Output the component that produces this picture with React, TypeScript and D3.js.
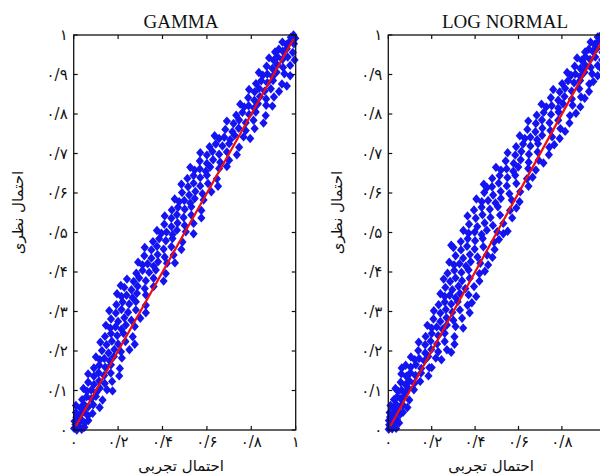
import React from "react";
import * as d3 from "d3";

// ---- Data ----
const xTicks = [0, 0.2, 0.4, 0.6, 0.8, 1];
const xTickLabels = ["۰", "۰/۲", "۰/۴", "۰/۶", "۰/۸", "۱"];
const yTicks = [0, 0.1, 0.2, 0.3, 0.4, 0.5, 0.6, 0.7, 0.8, 0.9, 1];
const yTickLabels = ["۰", "۰/۱", "۰/۲", "۰/۳", "۰/۴", "۰/۵", "۰/۶", "۰/۷", "۰/۸", "۰/۹", "۱"];
const refLine = [0.01, 0.99];
const titles = ["GAMMA", "LOG NORMAL"];
const xLabel = "احتمال تجربی";
const yLabel = "احتمال نظری";

const gammaPoints: [number, number][] = [
  [0.002,0.004],[0.014,0.0],[0.024,0.009],[0.036,0.002],[0.048,0.007],[0.008,0.014],
  [0.004,0.022],[0.02,0.016],[0.033,0.027],[0.05,0.018],[0.066,0.024],[0.012,0.032],
  [0.01,0.044],[0.03,0.038],[0.046,0.047],[0.064,0.036],[0.085,0.042],
  [0.01,0.062],[0.03,0.056],[0.046,0.065],[0.065,0.058],[0.088,0.064],[0.117,0.057],
  [0.038,0.077],[0.058,0.084],[0.079,0.079],[0.1,0.085],[0.13,0.076],
  [0.044,0.105],[0.06,0.098],[0.079,0.101],[0.102,0.095],[0.118,0.106],[0.15,0.102],[0.175,0.099],
  [0.065,0.121],[0.091,0.115],[0.114,0.124],[0.14,0.118],[0.173,0.123],
  [0.065,0.142],[0.091,0.136],[0.112,0.145],[0.137,0.138],[0.167,0.144],[0.205,0.137],
  [0.091,0.157],[0.115,0.164],[0.142,0.159],[0.168,0.165],[0.208,0.156],
  [0.1,0.185],[0.118,0.178],[0.138,0.181],[0.163,0.175],[0.181,0.186],[0.217,0.182],
  [0.127,0.201],[0.157,0.195],[0.183,0.204],[0.213,0.198],[0.251,0.203],
  [0.12,0.222],[0.148,0.216],[0.172,0.225],[0.2,0.218],[0.233,0.224],[0.275,0.217],
  [0.141,0.237],[0.168,0.244],[0.196,0.239],[0.224,0.245],[0.266,0.236],
  [0.145,0.265],[0.165,0.258],[0.188,0.261],[0.215,0.255],[0.235,0.266],[0.275,0.262],
  [0.168,0.281],[0.2,0.275],[0.228,0.284],[0.26,0.278],[0.3,0.283],
  [0.16,0.302],[0.19,0.296],[0.215,0.305],[0.245,0.298],[0.28,0.304],[0.325,0.297],
  [0.192,0.317],[0.22,0.324],[0.25,0.319],[0.28,0.325],[0.325,0.316],
  [0.195,0.345],[0.215,0.338],[0.238,0.341],[0.265,0.335],[0.285,0.346],[0.325,0.342],
  [0.212,0.366],[0.228,0.361],[0.26,0.355],[0.288,0.364],[0.32,0.358],[0.36,0.363],
  [0.24,0.382],[0.27,0.376],[0.295,0.385],[0.325,0.378],[0.36,0.384],[0.405,0.377],
  [0.282,0.397],[0.31,0.404],[0.34,0.399],[0.37,0.405],[0.415,0.396],
  [0.29,0.425],[0.31,0.418],[0.333,0.421],[0.36,0.415],[0.38,0.426],[0.42,0.422],[0.456,0.423],
  [0.318,0.441],[0.35,0.435],[0.378,0.444],[0.41,0.438],[0.45,0.443],
  [0.32,0.462],[0.35,0.456],[0.375,0.465],[0.405,0.458],[0.44,0.464],[0.485,0.457],
  [0.357,0.477],[0.385,0.484],[0.415,0.479],[0.445,0.485],[0.49,0.476],
  [0.375,0.505],[0.395,0.498],[0.418,0.501],[0.445,0.495],[0.465,0.506],[0.505,0.502],[0.54,0.497],
  [0.408,0.521],[0.44,0.515],[0.468,0.524],[0.5,0.518],[0.54,0.523],
  [0.41,0.542],[0.44,0.536],[0.465,0.545],[0.495,0.538],[0.53,0.544],[0.575,0.537],
  [0.442,0.557],[0.47,0.564],[0.5,0.559],[0.53,0.565],[0.575,0.556],
  [0.455,0.585],[0.475,0.578],[0.498,0.581],[0.525,0.575],[0.545,0.586],[0.585,0.582],
  [0.488,0.601],[0.52,0.595],[0.548,0.604],[0.58,0.598],[0.62,0.603],
  [0.485,0.622],[0.515,0.616],[0.54,0.625],[0.57,0.618],[0.605,0.624],[0.65,0.617],
  [0.512,0.637],[0.54,0.644],[0.57,0.639],[0.6,0.645],[0.645,0.636],
  [0.525,0.665],[0.545,0.658],[0.568,0.661],[0.595,0.655],[0.615,0.666],[0.655,0.662],[0.69,0.667],
  [0.568,0.681],[0.6,0.675],[0.628,0.684],[0.66,0.678],[0.7,0.683],
  [0.57,0.702],[0.6,0.696],[0.625,0.705],[0.655,0.698],[0.69,0.704],[0.735,0.697],
  [0.612,0.717],[0.64,0.724],[0.67,0.719],[0.7,0.725],[0.745,0.716],
  [0.635,0.745],[0.655,0.738],[0.678,0.741],[0.705,0.735],[0.725,0.746],[0.765,0.742],[0.795,0.738],
  [0.683,0.761],[0.715,0.755],[0.743,0.764],[0.775,0.758],[0.815,0.763],
  [0.69,0.782],[0.72,0.776],[0.745,0.785],[0.775,0.778],[0.81,0.784],[0.855,0.777],
  [0.732,0.797],[0.76,0.804],[0.79,0.799],[0.82,0.805],[0.865,0.796],
  [0.75,0.825],[0.768,0.818],[0.788,0.821],[0.813,0.815],[0.83,0.826],[0.867,0.822],[0.895,0.82],
  [0.786,0.841],[0.814,0.835],[0.839,0.844],[0.867,0.838],[0.902,0.843],
  [0.79,0.862],[0.815,0.856],[0.835,0.865],[0.86,0.858],[0.888,0.864],[0.925,0.857],[0.96,0.871],
  [0.821,0.877],[0.845,0.884],[0.872,0.879],[0.898,0.885],[0.938,0.876],
  [0.834,0.905],[0.852,0.898],[0.872,0.901],[0.896,0.895],[0.914,0.906],[0.949,0.902],[0.975,0.897],
  [0.869,0.921],[0.895,0.915],[0.917,0.924],[0.943,0.918],[0.975,0.923],
  [0.88,0.942],[0.901,0.936],[0.918,0.945],[0.94,0.938],[0.964,0.944],[0.995,0.937],
  [0.907,0.957],[0.924,0.964],[0.942,0.959],[0.96,0.965],[0.987,0.956],
  [0.94,0.982],[0.958,0.976],[0.975,0.985],[0.992,0.978],
  [0.978,0.994],[0.99,1.0],[0.998,0.992],
];

const lognormalPoints: [number, number][] = [
  [0.002,0.002],[0.01,0.008],[0.004,0.013],[0.018,0.003],[0.026,0.011],[0.036,0.004],[0.014,0.018],
  [0.003,0.024],[0.016,0.027],[0.028,0.02],[0.04,0.026],[0.05,0.018],[0.008,0.033],
  [0.006,0.044],[0.022,0.038],[0.038,0.046],[0.055,0.04],[0.068,0.045],
  [0.01,0.062],[0.024,0.056],[0.036,0.065],[0.05,0.058],[0.066,0.064],[0.088,0.057],
  [0.026,0.077],[0.041,0.084],[0.057,0.079],[0.073,0.085],[0.097,0.076],
  [0.033,0.105],[0.046,0.098],[0.061,0.101],[0.079,0.095],[0.092,0.106],[0.118,0.102],
  [0.057,0.121],[0.079,0.115],[0.098,0.124],[0.12,0.118],[0.147,0.123],
  [0.06,0.142],[0.083,0.136],[0.102,0.145],[0.125,0.138],[0.151,0.144],[0.185,0.137],
  [0.062,0.157],[0.08,0.164],[0.103,0.159],[0.127,0.165],[0.152,0.156],[0.189,0.158],[0.2,0.158],
  [0.104,0.185],[0.122,0.178],[0.142,0.181],[0.166,0.175],[0.184,0.186],[0.219,0.182],[0.245,0.178],
  [0.138,0.201],[0.17,0.195],[0.198,0.204],[0.23,0.198],[0.27,0.203],[0.29,0.197],
  [0.14,0.222],[0.17,0.216],[0.195,0.225],[0.225,0.218],[0.26,0.224],[0.305,0.217],
  [0.172,0.237],[0.2,0.244],[0.23,0.239],[0.26,0.245],[0.305,0.236],
  [0.18,0.265],[0.2,0.258],[0.223,0.261],[0.25,0.255],[0.27,0.266],[0.31,0.262],[0.345,0.258],
  [0.208,0.281],[0.24,0.275],[0.268,0.284],[0.3,0.278],[0.34,0.283],
  [0.21,0.302],[0.24,0.296],[0.265,0.305],[0.295,0.298],[0.33,0.304],[0.375,0.297],
  [0.232,0.317],[0.26,0.324],[0.29,0.319],[0.32,0.325],[0.365,0.316],[0.385,0.322],
  [0.24,0.345],[0.26,0.338],[0.283,0.341],[0.31,0.335],[0.33,0.346],[0.37,0.342],[0.405,0.338],
  [0.263,0.361],[0.295,0.355],[0.323,0.364],[0.355,0.358],[0.395,0.363],
  [0.255,0.382],[0.285,0.376],[0.31,0.385],[0.34,0.378],[0.375,0.384],[0.42,0.377],
  [0.273,0.397],[0.304,0.404],[0.337,0.399],[0.37,0.405],[0.42,0.396],[0.445,0.402],
  [0.281,0.425],[0.303,0.418],[0.328,0.421],[0.358,0.415],[0.38,0.426],[0.424,0.422],[0.46,0.418],
  [0.31,0.441],[0.345,0.435],[0.376,0.444],[0.411,0.438],[0.455,0.443],[0.48,0.437],
  [0.29,0.468],[0.3,0.462],[0.335,0.456],[0.363,0.465],[0.398,0.458],[0.438,0.464],[0.49,0.457],
  [0.334,0.477],[0.366,0.484],[0.4,0.479],[0.435,0.485],[0.487,0.476],[0.51,0.482],
  [0.346,0.505],[0.37,0.498],[0.398,0.501],[0.43,0.495],[0.454,0.506],[0.502,0.502],[0.53,0.497],[0.55,0.503],
  [0.372,0.521],[0.41,0.515],[0.444,0.524],[0.482,0.518],[0.53,0.523],
  [0.365,0.542],[0.403,0.536],[0.434,0.545],[0.471,0.538],[0.515,0.544],[0.571,0.537],
  [0.395,0.557],[0.43,0.564],[0.468,0.559],[0.505,0.565],[0.561,0.556],[0.59,0.562],
  [0.406,0.585],[0.431,0.578],[0.46,0.581],[0.494,0.575],[0.519,0.586],[0.569,0.582],[0.605,0.578],
  [0.442,0.601],[0.483,0.595],[0.518,0.604],[0.558,0.598],[0.608,0.603],
  [0.44,0.622],[0.455,0.614],[0.478,0.616],[0.509,0.625],[0.546,0.618],[0.59,0.624],[0.646,0.617],
  [0.479,0.637],[0.513,0.644],[0.549,0.639],[0.585,0.645],[0.639,0.636],[0.665,0.64],
  [0.496,0.665],[0.519,0.658],[0.545,0.661],[0.576,0.655],[0.599,0.666],[0.645,0.662],[0.68,0.658],
  [0.541,0.681],[0.578,0.675],[0.61,0.684],[0.647,0.678],[0.693,0.683],[0.715,0.676],
  [0.55,0.702],[0.585,0.696],[0.613,0.705],[0.648,0.698],[0.688,0.704],[0.74,0.697],
  [0.589,0.717],[0.621,0.724],[0.655,0.719],[0.69,0.725],[0.742,0.716],[0.765,0.722],
  [0.606,0.745],[0.629,0.738],[0.655,0.741],[0.686,0.735],[0.709,0.746],[0.755,0.742],[0.79,0.738],
  [0.641,0.761],[0.678,0.755],[0.71,0.764],[0.747,0.758],[0.793,0.763],[0.815,0.756],
  [0.645,0.782],[0.68,0.776],[0.708,0.785],[0.743,0.778],[0.783,0.784],[0.835,0.777],
  [0.684,0.797],[0.716,0.804],[0.75,0.799],[0.785,0.805],[0.837,0.796],[0.865,0.802],
  [0.706,0.825],[0.728,0.818],[0.753,0.821],[0.783,0.815],[0.805,0.826],[0.849,0.822],[0.885,0.818],
  [0.749,0.841],[0.783,0.835],[0.812,0.844],[0.846,0.838],[0.888,0.843],[0.905,0.84],
  [0.76,0.862],[0.79,0.856],[0.815,0.865],[0.845,0.858],[0.88,0.864],[0.925,0.857],
  [0.801,0.877],[0.828,0.884],[0.856,0.879],[0.884,0.885],[0.926,0.876],[0.945,0.882],
  [0.824,0.905],[0.842,0.898],[0.862,0.901],[0.886,0.895],[0.904,0.906],[0.939,0.902],[0.965,0.897],
  [0.859,0.921],[0.885,0.915],[0.907,0.924],[0.933,0.918],[0.965,0.923],[0.978,0.917],
  [0.87,0.942],[0.891,0.936],[0.908,0.945],[0.93,0.938],[0.954,0.944],[0.985,0.937],
  [0.907,0.957],[0.924,0.964],[0.942,0.959],[0.96,0.965],[0.987,0.956],
  [0.932,0.982],[0.95,0.976],[0.968,0.985],[0.985,0.978],[0.998,0.98],
  [0.965,0.995],[0.98,1.0],[0.995,0.993],[0.999,1.0],
];

// ---- Layout ----
const W = 600;
const H = 474;
const top = 35;
const bottom = 430;
const panels = [
  { left: 73.7, right: 295.7, title: titles[0], points: gammaPoints, titleX: 181, yLabelX: 18, xLabelX: 181 },
  { left: 388.3, right: 605.3, title: titles[1], points: lognormalPoints, titleX: 505, yLabelX: 337, xLabelX: 491 },
];

const PERSIAN = "'DejaVu Sans', 'Noto Sans', sans-serif";
const SERIF = "'Liberation Serif', 'DejaVu Serif', serif";
const diamond = "M0,-4.7L4.1,0L0,4.7L-4.1,0Z";
const TICK = 4;

function Panel({ p }: { p: typeof panels[number] }) {
  const x = d3.scaleLinear().domain([0, 1]).range([p.left, p.right]);
  const y = d3.scaleLinear().domain([0, 1]).range([bottom, top]);
  const line = d3.line<number>().x((d) => x(d)).y((d) => y(d));
  return (
    <g>
      <text x={p.titleX} y={28} textAnchor="middle" fontFamily={SERIF} fontSize={19} fill="#111">
        {p.title}
      </text>
      {p.points.map((d, i) => (
        <path key={i} d={diamond} transform={`translate(${x(d[0])},${y(d[1])})`} fill="#1414f0" />
      ))}
      <path d={line(refLine) || ""} stroke="#ee0c0c" strokeWidth={2.2} fill="none" />
      <rect x={x(0)} y={y(1)} width={x(1) - x(0)} height={y(0) - y(1)} fill="none" stroke="#111" strokeWidth={1.3} />
      {xTicks.map((t, i) => (
        <g key={"x" + i}>
          <line x1={x(t)} x2={x(t)} y1={bottom} y2={bottom - TICK} stroke="#111" strokeWidth={1.2} />
          <line x1={x(t)} x2={x(t)} y1={top} y2={top + TICK} stroke="#111" strokeWidth={1.2} />
          {x(t) < W - 4 && (
            <text x={x(t)} y={447} textAnchor="middle" fontFamily={PERSIAN} fontSize={15} fill="#111">
              {xTickLabels[i]}
            </text>
          )}
        </g>
      ))}
      {yTicks.map((t, i) => (
        <g key={"y" + i}>
          <line x1={p.left} x2={p.left + TICK} y1={y(t)} y2={y(t)} stroke="#111" strokeWidth={1.2} />
          <line x1={p.right} x2={p.right - TICK} y1={y(t)} y2={y(t)} stroke="#111" strokeWidth={1.2} />
          <text x={p.left - 6} y={y(t)} dy="0.35em" textAnchor="end" fontFamily={PERSIAN} fontSize={15} fill="#111">
            {yTickLabels[i]}
          </text>
        </g>
      ))}
      <text
        transform={`translate(${p.yLabelX},${(top + bottom) / 2 - 20}) rotate(-90)`}
        textAnchor="middle"
        dy="0.35em"
        fontFamily={PERSIAN}
        fontSize={15}
        fill="#111"
      >
        {yLabel}
      </text>
      <text x={p.xLabelX} y={471} textAnchor="middle" fontFamily={PERSIAN} fontSize={15} fill="#111">
        {xLabel}
      </text>
    </g>
  );
}

export default function App() {
  return (
    <svg
      width={W}
      height={H}
      viewBox={`0 0 ${W} ${H}`}
      style={{ position: "absolute", left: 0, top: 0, background: "#fff", display: "block" }}
    >
      <rect x={0} y={0} width={W} height={H} fill="#fff" />
      {panels.map((p, i) => (
        <Panel key={i} p={p} />
      ))}
    </svg>
  );
}
